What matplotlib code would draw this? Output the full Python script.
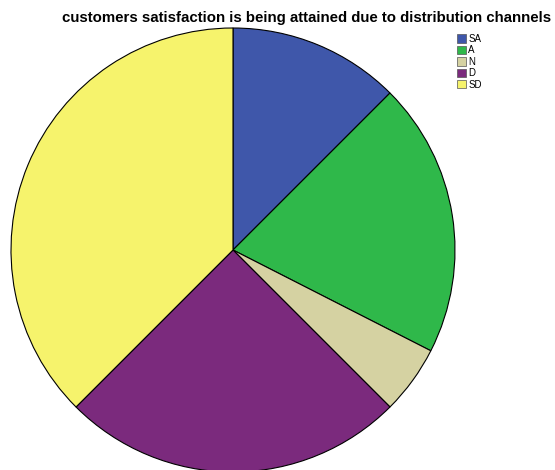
import matplotlib.pyplot as plt
from matplotlib.patches import Patch

labels = ['SA', 'A', 'N', 'D', 'SD']
counts = [5, 8, 2, 10, 15]
colors = ['#3f57aa', '#2fb84a', '#d5d2a2', '#7b2a7d', '#f6f36c']

fig = plt.figure(figsize=(5.55, 4.70), dpi=100)
ax = fig.add_axes([11 / 555, -2 / 470, 444 / 555, 444 / 470])
ax.pie(counts, colors=colors, startangle=90, counterclock=False,
       wedgeprops={'edgecolor': 'black', 'linewidth': 0.8})
ax.set_xlim(-1.0, 1.0)
ax.set_ylim(-1.0, 1.0)
ax.set_aspect('equal')

fig.text(0.553, 1 - 18 / 470, 'customers satisfaction is being attained due to distribution channels',
         ha='center', va='center', fontsize=10.8, fontweight='bold', family='Liberation Sans')

handles = [Patch(facecolor=c, edgecolor='#555555', linewidth=0.5) for c in colors]
fig.legend(handles, labels, loc='upper left', bbox_to_anchor=(450 / 555, 1 - 27 / 470),
           frameon=False, handlelength=0.95, handleheight=0.95,
           handletextpad=0.25, labelspacing=0.15, borderpad=0.2,
           prop={'family': 'Liberation Sans', 'size': 7})

fig.savefig('out.png', dpi=100)
